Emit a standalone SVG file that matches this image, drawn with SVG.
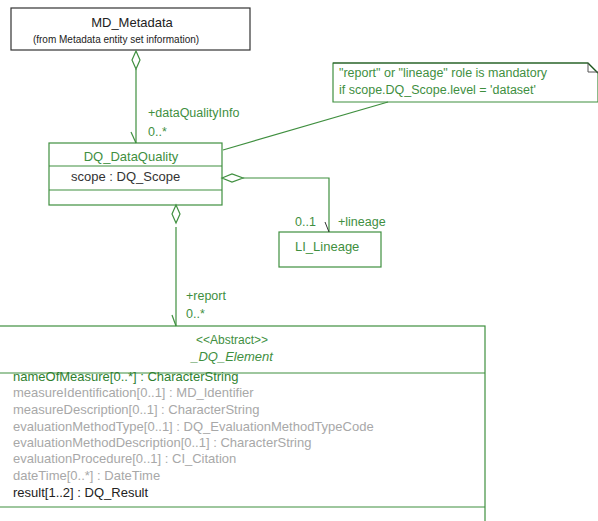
<svg xmlns="http://www.w3.org/2000/svg" width="598" height="521" viewBox="0 0 598 521">
<style>
text{font-family:"Liberation Sans",Arial,sans-serif;}
.box{fill:#fff;stroke:#3f8f3f;stroke-width:1.2;}
.ln{fill:none;stroke:#3f8f3f;stroke-width:1.2;}
.g{fill:#3f8f3f;}
.gray{fill:#a8a8a8;}
.blk{fill:#222;}
.attr{font-size:13px;}
</style>
<rect width="598" height="521" fill="#fff"/>
<g id="MD_Metadata">
<rect x="11" y="8" width="239" height="42" fill="#fff" stroke="#333" stroke-width="1.2"/>
<text x="132" y="27" font-size="13" text-anchor="middle" class="blk">MD_Metadata</text>
<text x="116" y="43" font-size="10" text-anchor="middle" class="blk">(from Metadata entity set information)</text>
</g>
<g id="note">
<path d="M333 63 H588 L598 73 V102 H333 Z" class="box"/>
<path d="M333 63 H588 L598 73" fill="none" stroke="#1f4f1f" stroke-width="1.2"/>
<path d="M588 63 V72 H598" fill="none" stroke="#555" stroke-width="1"/>
<text x="339" y="77" font-size="12.5" class="g">"report" or "lineage" role is mandatory</text>
<text x="339" y="94" font-size="12.5" class="g">if scope.DQ_Scope.level = 'dataset'</text>
</g>
<g id="DQ_DataQuality">
<rect x="49" y="143" width="173" height="62" class="box"/>
<line x1="49" y1="166" x2="222" y2="166" class="ln"/>
<line x1="49" y1="190" x2="222" y2="190" class="ln"/>
<text x="131" y="161" font-size="13" text-anchor="middle" class="g">DQ_DataQuality</text>
<text x="71" y="181" font-size="13" fill="#333">scope : DQ_Scope</text>
</g>
<g id="LI_Lineage">
<rect x="279" y="232" width="102" height="35" class="box"/>
<text x="295" y="251" font-size="13" class="g">LI_Lineage</text>
</g>
<g id="DQ_Element">
<rect x="-1" y="326" width="486" height="210" class="box"/>
<line x1="-1" y1="373" x2="485" y2="373" class="ln"/>
<line x1="-1" y1="507" x2="485" y2="507" class="ln"/>
<text x="232" y="344" font-size="12" text-anchor="middle" class="g">&lt;&lt;Abstract&gt;&gt;</text>
<text x="232" y="361" font-size="13" text-anchor="middle" font-style="italic" class="g">_DQ_Element</text>
<text x="13" y="381" class="attr" fill="#2f7f2f">nameOfMeasure[0..*] : CharacterString</text>
<text x="13" y="397" class="attr gray">measureIdentification[0..1] : MD_Identifier</text>
<text x="13" y="414" class="attr gray">measureDescription[0..1] : CharacterString</text>
<text x="13" y="431" class="attr gray">evaluationMethodType[0..1] : DQ_EvaluationMethodTypeCode</text>
<text x="13" y="447" class="attr gray">evaluationMethodDescription[0..1] : CharacterString</text>
<text x="13" y="463" class="attr gray">evaluationProcedure[0..1] : CI_Citation</text>
<text x="13" y="480" class="attr gray">dateTime[0..*] : DateTime</text>
<text x="13" y="497" class="attr blk">result[1..2] : DQ_Result</text>
</g>
<g id="connectors">
<path d="M136 51 L140 60 L136 69 L132 60 Z" class="ln" fill="#fff"/>
<line x1="136" y1="69" x2="136" y2="143" class="ln"/>
<line x1="131" y1="132" x2="136" y2="143" class="ln"/>
<text x="148" y="117" font-size="12.5" class="g">+dataQualityInfo</text>
<text x="148" y="136" font-size="12.5" class="g">0..*</text>
<line x1="223" y1="150" x2="388" y2="102" class="ln"/>
<path d="M222 178 L232 174 L243 178 L232 182 Z" class="ln" fill="#fff"/>
<polyline points="243,178 329,178 329,232" class="ln"/>
<line x1="325" y1="222" x2="329" y2="232" stroke="#333" stroke-width="1"/>
<text x="295" y="226" font-size="12.5" class="g">0..1</text>
<text x="338" y="226" font-size="12.5" class="g">+lineage</text>
<path d="M176 205 L180 214 L176 223 L172 214 Z" class="ln" fill="#fff"/>
<line x1="176" y1="227" x2="176" y2="326" class="ln"/>
<line x1="172" y1="315" x2="176" y2="326" class="ln"/>
<text x="186" y="300" font-size="12.5" class="g">+report</text>
<text x="186" y="318" font-size="12.5" class="g">0..*</text>
</g>
</svg>
